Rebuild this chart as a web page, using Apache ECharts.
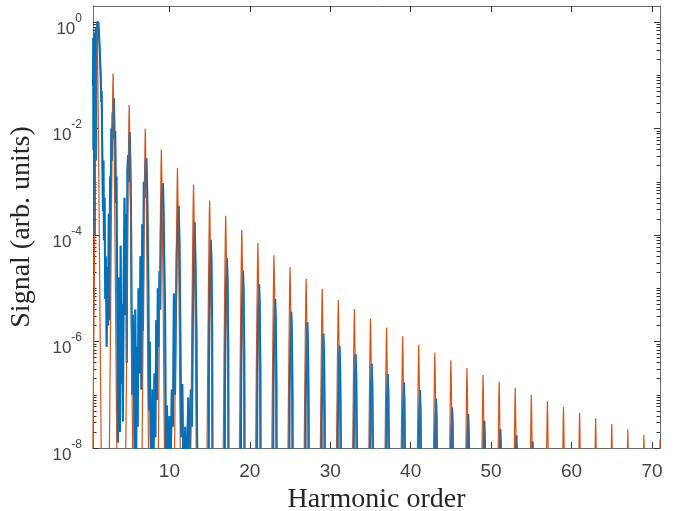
<!DOCTYPE html>
<html><head><meta charset="utf-8">
<script src="https://cdn.jsdelivr.net/npm/echarts@6/dist/echarts.min.js"></script>
<style>html,body{margin:0;padding:0;background:#fff}#c{width:675px;height:511px}</style>
</head><body><div id="c"></div>
<script>
// ---- tick labels ----
const xTicks = [10, 20, 30, 40, 50, 60, 70];
const yTickExps = [-8, -6, -4, -2, 0];          // labelled decades, 10^n

// ---- orange series: odd harmonic peaks (log10 of signal) ----
const orangeHarm = [1,3,5,7,9,11,13,15,17,19,21,23,25,27,29,31,33,35,37,39,41,43,45,47,49,51,53,55,57,59,61,63,65,67,69,71];
const orangePeakLog = [0.0,-0.965,-1.56,-2.005,-2.395,-2.74,-3.05,-3.35,-3.64,-3.90,-4.15,-4.38,-4.60,-4.82,-5.015,-5.22,-5.39,-5.57,-5.74,-5.90,-6.06,-6.21,-6.35,-6.50,-6.63,-6.75,-6.87,-7.00,-7.12,-7.23,-7.34,-7.44,-7.55,-7.65,-7.75,-7.84];
// peak profile: offset (harmonics) and drop (decades)
const orangeShapeDx   = [-0.65,-0.5,-0.42,-0.3,-0.2,-0.1,-0.04,0,0.04,0.1,0.2,0.3,0.42,0.5,0.65];
const orangeShapeDrop = [-12,-7.6,-6.4,-4.3,-2.5,-1.0,-0.3,0,-0.3,-1.0,-2.5,-4.3,-6.4,-7.6,-12];

// ---- blue series: low orders as read point by point (harmonic, log10 signal) ----
const blueLowH = [0.50,0.53,0.56,0.60,0.64,0.68,0.72,0.76,0.80,0.84,0.88,0.92,0.96,1.00,1.04,1.08,1.12,1.16,1.22,1.28,1.34,1.40,1.46,1.52,1.58,1.64,1.74,1.80,1.86,1.94,2.02,2.10,2.20,2.30,2.38,2.46,2.54,2.62,2.70,2.78,2.86,2.94,3.02,3.10,3.18,3.26,3.34,3.42,3.52,3.60,3.68,3.78,3.86,3.94,4.04,4.14,4.22,4.32,4.42,4.50,4.60,4.70,4.78,4.86,4.94,5.00,5.07,5.14,5.22,5.30,5.38,5.46,5.56,5.66,5.76,5.86,5.96,6.06,6.16,6.28,6.40,6.52,6.62,6.72,6.82,6.92,7.02,7.14,7.22,7.30,7.38,7.46,7.56,7.66,7.76,7.90,8.02,8.14,8.26,8.36,8.46,8.56,8.66,8.76,8.86,8.96,9.06,9.20,9.28,9.36,9.46,9.56,9.70,9.84,10.00,10.14,10.30,10.44,10.56,10.70,10.80,10.92,11.04,11.16,11.26,11.36,11.46,11.60,11.76,11.96,12.14,12.34,12.50,12.66,12.80,12.92,13.04,13.15,13.25,13.36,13.48,13.70,14.30];
const blueLowLog = [-1.2,-0.3,-2.4,-0.4,-2.0,-0.2,-4.0,-0.3,-1.5,-0.1,-2.6,-0.15,-0.9,0.0,-0.3,0.02,-0.2,0.0,-0.15,-0.35,-0.5,-0.8,-1.0,-1.5,-1.3,-2.3,-3.55,-2.6,-4.1,-3.3,-5.2,-4.4,-6.1,-4.6,-5.7,-3.6,-5.6,-2.9,-3.3,-2.0,-2.6,-1.7,-1.9,-1.43,-2.2,-2.05,-3.4,-2.9,-5.2,-7.9,-4.8,-6.3,-7.7,-4.2,-6.8,-5.3,-7.5,-4.7,-3.3,-5.5,-3.6,-6.4,-2.8,-2.5,-3.0,-2.3,-2.07,-2.6,-3.4,-5.5,-7.0,-5.5,-6.3,-8.1,-5.4,-8.3,-6.1,-7.6,-5.0,-6.6,-4.4,-6.9,-3.8,-5.8,-3.0,-3.3,-2.7,-2.56,-3.0,-3.85,-4.9,-7.3,-6.0,-7.8,-8.4,-6.9,-8.3,-6.6,-7.8,-5.6,-7.1,-5.0,-6.1,-4.68,-5.4,-3.6,-3.3,-3.03,-3.6,-4.52,-5.4,-8.3,-7.2,-8.6,-7.4,-8.5,-6.9,-7.6,-5.1,-7.0,-5.6,-4.3,-3.8,-3.45,-4.2,-5.8,-7.8,-6.8,-8.6,-7.6,-8.7,-7.05,-8.5,-6.9,-7.6,-5.5,-4.3,-3.76,-4.6,-5.8,-8.5,-9,-9];
// blue higher-order peaks
const blueHarm = [15,17,19,21,23,25,27,29,31,33,35,37,39,41,43,45,47,49,51,53,55];
const bluePeakLog = [-4.09,-4.43,-4.67,-4.92,-5.20,-5.44,-5.64,-5.85,-6.08,-6.24,-6.42,-6.61,-6.77,-6.91,-7.07,-7.24,-7.36,-7.49,-7.65,-7.76,-7.88];
const blueShift = 0.15;
const blueShapeDx   = [-0.36,-0.22,-0.1,0,0.08,0.16,0.3];
const blueShapeDrop = [-9,-1.6,-0.5,0,-0.4,-1.6,-9];

// ---- build series data ----
const orangeData = [];
orangeHarm.forEach((h, i) => {
  orangeShapeDx.forEach((dx, j) => orangeData.push([h + dx, orangePeakLog[i] + orangeShapeDrop[j]]));
});
const blueData = blueLowH.map((h, i) => [h, blueLowLog[i]]);
blueHarm.forEach((h, i) => {
  blueShapeDx.forEach((dx, j) => blueData.push([h + blueShift + dx, bluePeakLog[i] + blueShapeDrop[j]]));
});

const yMin = -8, yMax = Math.log10(2);
const minorTicks = [];
for (let n = -8; n <= 0; n++) {
  if (n % 2 !== 0) minorTicks.push(n);
  for (let k = 2; k <= 9; k++) { const v = n + Math.log10(k); if (v < yMax - 1e-6) minorTicks.push(v); }
}

const AX = '#6a6a6a', TK = '#333333', TXT = '#444444';
const sans = 'Liberation Sans, Arial, Helvetica, sans-serif';
const serif = 'Liberation Serif, Times New Roman, serif';

function yAxisDef(pos, ticks, len, labels) {
  return {
    type: 'value', position: pos, min: yMin, max: yMax,
    splitLine: { show: false },
    axisLine: { show: true, onZero: false, lineStyle: { color: AX, width: 1 } },
    axisTick: { show: true, inside: true, length: len, customValues: ticks, lineStyle: { color: TK, width: 1 } },
    axisLabel: labels ? {
      show: true, customValues: yTickExps, margin: 11, padding: [11, 0, 0, 0],
      formatter: v => '{b|10}{s|' + Math.round(v) + '}',
      rich: {
        b: { fontSize: 17, fontFamily: sans, color: TXT, lineHeight: 20, verticalAlign: 'bottom' },
        s: { fontSize: 12, fontFamily: sans, color: TXT, lineHeight: 12, padding: [4, 0, 13, 0], verticalAlign: 'bottom' }
      }
    } : { show: false }
  };
}

const chart = echarts.init(document.getElementById('c'), null, { renderer: 'canvas' });
chart.setOption({
  animation: false,
  backgroundColor: '#ffffff',
  grid: { left: 93, right: 15, top: 6, bottom: 63, containLabel: false, outerBoundsMode: 'none' },
  xAxis: [
    {
      type: 'value', position: 'bottom', min: 0.5, max: 71,
      splitLine: { show: false },
      axisLine: { show: true, onZero: false, lineStyle: { color: AX, width: 1 } },
      axisTick: { show: true, inside: true, length: 6, customValues: xTicks, lineStyle: { color: TK, width: 1 } },
      axisLabel: { show: true, customValues: xTicks, fontSize: 19, fontFamily: sans, color: TXT, margin: 14 },
      name: 'Harmonic order', nameLocation: 'middle', nameGap: 26,
      nameTextStyle: { fontFamily: serif, fontSize: 28, color: '#262626' }
    },
    {
      type: 'value', position: 'top', min: 0.5, max: 71,
      splitLine: { show: false },
      axisLine: { show: true, onZero: false, lineStyle: { color: AX, width: 1 } },
      axisTick: { show: true, inside: true, length: 6, customValues: xTicks, lineStyle: { color: TK, width: 1 } },
      axisLabel: { show: false }
    }
  ],
  yAxis: [
    Object.assign(yAxisDef('left', yTickExps, 6, true), {
      name: 'Signal (arb. units)', nameLocation: 'middle', nameGap: 57,
      nameTextStyle: { fontFamily: serif, fontSize: 28, color: '#262626' }
    }),
    yAxisDef('left', minorTicks, 3.5, false),
    yAxisDef('right', yTickExps, 6, false),
    yAxisDef('right', minorTicks, 3.5, false)
  ],
  series: [
    { type: 'line', xAxisIndex: 0, yAxisIndex: 0, data: blueData, symbol: 'none', z: 2, silent: true,
      lineStyle: { color: '#0072BD', width: 2, join: 'bevel' } },
    { type: 'line', xAxisIndex: 0, yAxisIndex: 0, data: orangeData, symbol: 'none', z: 3, silent: true,
      lineStyle: { color: '#D95319', width: 1.2, join: 'bevel' } },
    { type: 'line', xAxisIndex: 0, yAxisIndex: 0, data: blueData, symbol: 'none', z: 4, silent: true,
      lineStyle: { color: '#0072BD', width: 2, opacity: 0.5, join: 'bevel' } }
  ]
});
</script>
</body></html>
